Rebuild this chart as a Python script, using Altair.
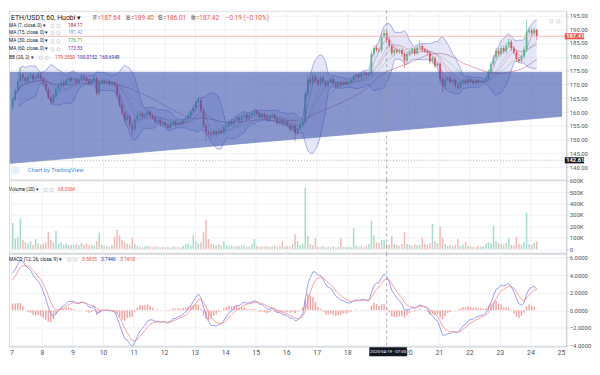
import altair as alt
import pandas as pd

# ---------------- data: ETH/USDT, Huobi, 2-hour candles, 7-24 Apr 2020 ----------------
close_apr07 = [164.5, 167.8, 171.2, 173.6, 172.4, 171.0, 172.8, 173.5, 171.9, 172.6, 173.8, 172.1]
close_apr08 = [170.4, 168.1, 165.3, 163.6, 165.8, 168.2, 169.5, 170.8, 169.9, 171.6, 172.3, 171.5]
close_apr09 = [172.0, 170.6, 171.8, 173.0, 172.4, 171.3, 170.2, 171.5, 172.3, 166.8, 170.6, 171.4]
close_apr10 = [170.8, 171.3, 170.1, 170.6, 169.8, 166.0, 162.5, 159.8, 157.2, 158.6, 155.3, 153.8]
close_apr11 = [157.4, 158.8, 159.6, 158.3, 159.1, 160.2, 158.9, 157.8, 156.4, 157.2, 155.6, 156.3]
close_apr12 = [155.2, 154.3, 155.8, 156.6, 155.4, 156.2, 155.7, 157.0, 157.6, 158.8, 160.2, 161.5]
close_apr13 = [163.6, 164.3, 160.5, 155.2, 153.0, 152.3, 151.8, 153.1, 152.0, 153.4, 152.5, 154.6]
close_apr14 = [155.2, 156.8, 155.9, 157.3, 158.1, 157.0, 158.6, 159.2, 157.8, 158.9, 159.6, 160.4]
close_apr15 = [159.5, 158.2, 159.3, 158.0, 157.1, 158.4, 159.0, 157.6, 156.2, 157.3, 155.8, 156.5]
close_apr16 = [155.4, 153.8, 155.1, 152.6, 154.0, 155.6, 156.8, 166.5, 171.8, 170.6, 172.9, 171.4]
close_apr17 = [170.2, 172.4, 171.0, 169.5, 170.8, 172.0, 170.3, 169.2, 170.6, 169.8, 170.9, 170.1]
close_apr18 = [170.8, 171.6, 172.9, 173.4, 172.6, 173.8, 174.2, 173.5, 174.0, 181.0, 183.2, 182.5]
close_apr19 = [182.4, 187.5, 188.6, 186.2, 184.0, 181.3, 182.6, 181.8, 182.5, 181.0, 178.6, 181.0]
close_apr20 = [181.8, 182.9, 181.2, 183.4, 183.9, 182.6, 182.0, 181.5, 178.3, 179.6, 176.8, 177.5]
close_apr21 = [172.0, 169.4, 171.8, 172.5, 170.9, 171.6, 169.6, 168.9, 170.8, 171.5, 170.6, 171.9]
close_apr22 = [171.2, 170.4, 171.6, 170.8, 171.3, 170.9, 172.1, 174.6, 177.5, 179.8, 182.2, 181.0]
close_apr23 = [183.2, 182.0, 184.1, 185.4, 183.0, 181.6, 179.2, 178.5, 180.1, 182.8, 188.9, 189.6]
close_apr24 = [188.6, 189.8, 187.42]
first_open = 162.0

wick_up = [
    0.6, 0.8, 0.9, 2.5, 0.7, 0.5, 0.8, 0.9, 0.4, 0.7, 0.8, 0.5,
    0.4, 0.6, 0.5, 0.7, 0.9, 0.6, 0.8, 0.7, 0.9, 0.5, 0.8, 0.6,
    0.7, 0.5, 0.8, 0.9, 0.6, 0.5, 0.7, 0.6, 0.9, 0.6, 0.8, 0.5,
    0.6, 0.7, 0.5, 0.6, 0.5, 0.8, 0.7, 0.9, 0.6, 1.1, 0.7, 0.9,
    0.9, 0.8, 1.0, 0.6, 0.7, 0.9, 0.5, 0.6, 0.7, 0.8, 0.6, 0.7,
    0.5, 0.6, 0.7, 0.5, 0.6, 0.4, 0.6, 0.7, 0.8, 0.9, 0.7, 1.0,
    0.9, 0.7, 0.8, 0.6, 0.8, 0.7, 0.6, 0.9, 0.5, 0.7, 0.6, 0.8,
    0.7, 0.6, 0.8, 0.5, 0.7, 0.6, 0.5, 0.8, 0.6, 0.7, 0.6, 0.8,
    0.6, 0.7, 0.5, 0.6, 0.8, 0.5, 0.7, 0.6, 0.5, 0.7, 0.6, 0.5,
    0.5, 0.6, 0.7, 0.5, 0.6, 0.5, 0.8, 1.2, 1.6, 0.9, 1.1, 0.8,
    0.9, 0.6, 0.7, 0.5, 0.8, 0.6, 0.7, 0.5, 0.6, 0.7, 0.5, 0.6,
    0.5, 0.6, 0.8, 0.6, 0.5, 0.7, 0.6, 0.5, 0.7, 1.2, 1.0, 0.9,
    0.8, 1.1, 1.2, 0.9, 0.8, 0.7, 0.9, 0.8, 0.7, 0.6, 0.8, 0.7,
    0.7, 0.8, 0.6, 0.7, 2.2, 0.6, 0.7, 0.5, 0.6, 0.8, 0.6, 0.7,
    0.6, 0.8, 0.7, 0.6, 0.8, 0.5, 0.6, 0.7, 0.5, 0.6, 0.7, 0.6,
    0.5, 0.6, 0.4, 0.5, 0.6, 0.5, 0.7, 0.9, 1.0, 0.8, 1.1, 0.9,
    1.0, 0.8, 0.9, 1.2, 0.8, 0.7, 0.6, 0.7, 0.9, 1.0, 4.6, 0.9,
    0.8, 0.6, 0.3,
]
wick_dn = [
    1.2, 0.6, 0.5, 0.7, 0.9, 0.6, 0.5, 0.7, 0.8, 0.5, 0.6, 0.7,
    0.8, 0.7, 0.6, 1.0, 0.5, 0.6, 0.7, 0.5, 0.8, 0.6, 0.5, 0.7,
    0.6, 0.8, 0.5, 0.6, 0.7, 0.9, 0.6, 0.5, 0.7, 0.9, 0.6, 0.5,
    0.5, 0.6, 0.7, 0.5, 0.8, 0.9, 0.8, 0.7, 1.0, 0.6, 0.8, 2.2,
    0.7, 0.6, 0.5, 0.8, 0.6, 0.7, 0.9, 0.6, 0.7, 0.5, 0.8, 0.6,
    0.7, 0.8, 0.5, 0.6, 0.7, 0.5, 0.6, 0.4, 0.5, 0.6, 0.7, 0.5,
    0.6, 0.8, 0.7, 0.9, 3.2, 0.8, 0.9, 0.6, 0.8, 0.5, 0.7, 0.6,
    0.6, 0.5, 0.7, 0.6, 0.5, 0.7, 0.6, 0.5, 0.8, 0.6, 0.5, 0.6,
    0.7, 0.6, 0.5, 0.7, 0.6, 0.5, 0.6, 0.7, 0.8, 0.5, 0.7, 0.6,
    0.8, 0.9, 0.6, 3.2, 0.7, 0.6, 0.5, 0.8, 0.9, 1.0, 0.7, 0.8,
    0.8, 0.6, 0.7, 0.9, 0.5, 0.6, 0.7, 0.8, 0.6, 0.7, 0.5, 0.6,
    0.6, 0.5, 0.6, 0.7, 0.5, 0.6, 0.5, 0.7, 0.6, 0.8, 0.9, 0.8,
    0.9, 0.8, 0.7, 0.9, 1.0, 0.8, 0.9, 0.7, 0.8, 0.9, 2.6, 0.8,
    0.8, 0.7, 0.9, 0.6, 0.7, 0.8, 0.6, 0.7, 0.9, 0.8, 0.9, 0.7,
    1.5, 2.2, 0.8, 0.7, 0.6, 0.7, 0.8, 0.9, 0.6, 0.7, 0.5, 0.6,
    0.5, 0.6, 0.5, 0.6, 0.5, 0.6, 0.5, 0.7, 0.8, 0.9, 0.8, 1.0,
    0.9, 1.0, 0.8, 0.9, 1.0, 0.9, 1.1, 0.8, 0.9, 0.8, 1.0, 0.9,
    1.0, 0.8, 1.4,
]
volume_k = [
    230, 90, 110, 270, 80, 60, 50, 70, 40, 90, 50, 40,
    50, 60, 150, 80, 60, 160, 50, 60, 40, 50, 35, 40,
    40, 50, 35, 55, 40, 50, 35, 40, 30, 70, 145, 40,
    30, 25, 20, 35, 110, 170, 120, 80, 60, 50, 40, 100,
    45, 30, 20, 18, 25, 30, 22, 18, 25, 22, 15, 22,
    18, 22, 15, 25, 18, 22, 15, 30, 45, 50, 35, 120,
    70, 50, 60, 150, 255, 90, 50, 45, 35, 45, 30, 70,
    35, 30, 32, 22, 30, 25, 35, 30, 22, 25, 45, 90,
    30, 22, 25, 22, 30, 22, 25, 30, 22, 25, 70, 25,
    30, 25, 45, 130, 70, 35, 50, 540, 115, 45, 35, 95,
    22, 18, 30, 15, 22, 18, 25, 15, 22, 95, 18, 22,
    22, 18, 185, 30, 22, 25, 18, 30, 45, 250, 120, 60,
    55, 80, 80, 45, 38, 115, 45, 38, 30, 45, 150, 45,
    38, 30, 45, 35, 38, 100, 45, 38, 55, 220, 70, 55,
    200, 100, 45, 30, 38, 30, 38, 90, 30, 38, 65, 30,
    25, 22, 18, 30, 22, 25, 45, 60, 55, 205, 70, 55,
    45, 38, 55, 95, 38, 35, 110, 45, 38, 60, 320, 45,
    40, 55, 68.356,
]
# MACD state carried in from before the visible window (fast EMA, slow EMA, signal)
macd_seed = (159.0, 155.0, 3.0)

# trend-channel drawing (day, top price, bottom price)
channel_day = [6.96, 25.02]
channel_top = [174.4, 174.4]
channel_bot = [141.5, 158.5]

day_ticks = list(range(7, 26))
price_ticks = [140, 145, 150, 155, 160, 165, 170, 175, 180, 185, 190, 195]
volume_ticks = [0, 100000, 200000, 300000, 400000, 500000, 600000]
macd_ticks = [-4, -2, 0, 2, 4, 6]

last_price = 187.41
cross_price = 142.61
cross_day = 19 + 7 / 24

# ---------------- table ----------------
close = (close_apr07 + close_apr08 + close_apr09 + close_apr10 + close_apr11 + close_apr12
         + close_apr13 + close_apr14 + close_apr15 + close_apr16 + close_apr17 + close_apr18
         + close_apr19 + close_apr20 + close_apr21 + close_apr22 + close_apr23 + close_apr24)
n = len(close)
opens = [first_open] + close[:-1]
high = [max(o, c) + w for o, c, w in zip(opens, close, wick_up)]
low = [min(o, c) - w for o, c, w in zip(opens, close, wick_dn)]
t = [7 + i / 12 + 1 / 24 for i in range(n)]

s = pd.Series(close)
bb_mid = s.rolling(10, min_periods=3).mean()
bb_sd = s.rolling(10, min_periods=3).std(ddof=0)

fast, slow, sig = macd_seed
af, asl, ag = 2 / 7, 2 / 14, 2 / 5.5
macd, signal = [], []
for c in close:
    fast += af * (c - fast)
    slow += asl * (c - slow)
    m = fast - slow
    sig += ag * (m - sig)
    macd.append(m)
    signal.append(sig)

df = pd.DataFrame({
    "t": t, "o": opens, "c": close, "h": high, "l": low,
    "v": [x * 1000 for x in volume_k],
    "dir": ["up" if c >= o else "down" for o, c in zip(opens, close)],
    "bb_m": bb_mid, "bb_u": bb_mid + 2 * bb_sd, "bb_l": bb_mid - 2 * bb_sd,
    "ma7": s.rolling(4, min_periods=1).mean(),
    "ma15": s.rolling(8, min_periods=1).mean(),
    "ma30": s.rolling(15, min_periods=1).mean(),
    "ma60": s.rolling(30, min_periods=1).mean(),
    "macd": macd, "sig": signal,
})
df["vdir"] = df["dir"]
df["hist"] = df["macd"] - df["sig"]
poly = pd.DataFrame({"t": channel_day, "top": channel_top, "bot": channel_bot})
dummy = pd.DataFrame({"k": [0]})

# ---------------- styling ----------------
FONT = "Roboto, 'Noto Sans CJK SC', sans-serif"
GRID = "#f0f2f6"
AX = "#c9ccd3"
LBL = "#4f535e"
UP, DOWN = "#53b987", "#eb4d5c"
W = 563
H_MAIN, H_VOL, H_MACD = 171, 74, 94

xs = alt.Scale(domain=[7.0817, 25.013], nice=False, zero=False)
ax_x_hidden = alt.Axis(values=day_ticks, labels=False, ticks=False, domainColor="#d1d4dc",
                       domainWidth=2, gridColor=GRID, title=None)
ax_x = alt.Axis(values=day_ticks, format="d", labelExpr="datum.value == 19 ? '' : datum.label",
                ticks=False, domainColor="#d1d4dc", domainWidth=1, gridColor=GRID, title=None,
                labelFontSize=7, labelColor=LBL, labelPadding=2, labelFlush=False, labelFont=FONT)


def yaxis(values, **kw):
    return alt.Axis(orient="right", values=values, tickSize=2, tickColor=AX, domainColor=AX,
                    gridColor=GRID, title=None, labelFontSize=6, labelColor=LBL, labelPadding=1,
                    labelFont=FONT, **kw)


ys_main = alt.Scale(domain=[135.48, 196.63], nice=False, zero=False)
ax_main = yaxis(price_ticks, format=".2f")
ys_vol = alt.Scale(domain=[-35800, 605800], nice=False, zero=False)
ax_vol = yaxis(volume_ticks, labelExpr="datum.value == 0 ? '0' : (datum.value / 1000) + 'K'")
ys_macd = alt.Scale(domain=[-4.08, 6.47], nice=False, zero=False)
ax_macd = yaxis(macd_ticks, format=".4f")


def txt(x, y, s, color="#131722", size=4.8, weight="normal", align="left"):
    return alt.Chart(dummy).mark_text(text=s, align=align, baseline="middle", font=FONT,
                                      fontSize=size, fontWeight=weight, color=color).encode(
        x=alt.value(x), y=alt.value(y))


def icons(xs_, y):
    return [alt.Chart(dummy).mark_point(shape="square", filled=False, size=9, color="#a9adb6",
                                        strokeWidth=0.6).encode(x=alt.value(xx), y=alt.value(y))
            for xx in xs_]


base = alt.Chart(df)


def X(axis):
    return alt.X("t:Q", scale=xs, axis=axis)


def YM(f):
    return alt.Y(f, type="quantitative", scale=ys_main, axis=ax_main)


def YD(v):
    return alt.Y(datum=v, scale=ys_main, axis=ax_main)


dir_main = alt.Color("dir:N", scale=alt.Scale(domain=["up", "down"], range=[UP, DOWN]), legend=None)
dir_vol = alt.Color("vdir:N", scale=alt.Scale(domain=["up", "down"], range=["#a6dccb", "#f5b9b7"]),
                    legend=None)

# ---------------- main panel ----------------
xm = X(ax_x_hidden)
main_layers = [
    base.mark_area(color="#c5c7ef", opacity=0.45, clip=True).encode(x=xm, y=YM("bb_u"), y2="bb_l:Q"),
    base.mark_line(color="#8c90d8", strokeWidth=0.7, clip=True).encode(x=xm, y=YM("bb_u")),
    base.mark_line(color="#8c90d8", strokeWidth=0.7, clip=True).encode(x=xm, y=YM("bb_l")),
    base.mark_line(color="#ef8f8f", strokeWidth=0.6, clip=True).encode(x=xm, y=YM("bb_m")),
    base.mark_line(color="#a0406e", strokeWidth=0.5, opacity=0.7, clip=True).encode(x=xm, y=YM("ma7")),
    base.mark_line(color="#7ea8e0", strokeWidth=0.5, opacity=0.8, clip=True).encode(x=xm, y=YM("ma15")),
    base.mark_line(color="#7cc47f", strokeWidth=0.5, opacity=0.8, clip=True).encode(x=xm, y=YM("ma30")),
    base.mark_line(color="#b0507a", strokeWidth=0.6, opacity=0.8, clip=True).encode(x=xm, y=YM("ma60")),
    base.mark_rule(strokeWidth=0.6, clip=True).encode(x=xm, y=YM("l"), y2="h:Q", color=dir_main),
    base.mark_bar(width=1.7, clip=True).encode(x=xm, y=YM("o"), y2="c:Q", color=dir_main),
    alt.Chart(poly).mark_area(color="#3a52ad", opacity=0.6, stroke="#2d46a3", strokeWidth=0.8,
                              clip=True).encode(x=xm, y=YM("top"), y2="bot:Q"),
    alt.Chart(dummy).mark_rule(color="#f4aaaa", strokeWidth=0.8).encode(y=YD(last_price)),
    alt.Chart(dummy).mark_rule(color="#9598a1", strokeWidth=0.8, strokeDash=[1, 2]).encode(
        y=YD(cross_price)),
    alt.Chart(dummy).mark_rule(color="#9598a1", strokeWidth=0.8, strokeDash=[3, 3]).encode(
        x=alt.X(datum=cross_day, scale=xs, axis=ax_x_hidden)),
    alt.Chart(dummy).mark_rect(color="#ef5350").encode(
        x=alt.value(561.5), x2=alt.value(581), y=YD(188.5), y2=alt.datum(186.3)),
    alt.Chart(dummy).mark_text(text="187.41", align="left", baseline="middle", fontSize=5.8,
                               font=FONT, color="white", fontWeight="bold").encode(
        x=alt.value(563), y=YD(last_price)),
    alt.Chart(dummy).mark_rect(color="#131722").encode(
        x=alt.value(561.5), x2=alt.value(581), y=YD(143.7), y2=alt.datum(141.5)),
    alt.Chart(dummy).mark_text(text="142.61", align="left", baseline="middle", fontSize=5.8,
                               font=FONT, color="white", fontWeight="bold").encode(
        x=alt.value(563), y=YD(cross_price)),
    # watermark
    alt.Chart(dummy).mark_point(shape="circle", filled=True, size=70, color="#dcebf8").encode(
        x=alt.value(7), y=alt.value(161.3)),
    txt(19, 161.3, "Chart by TradingView", color="#4a8fd6", size=6),
    # legend line 1
    txt(2, 7.1, "ETH/USDT, 60, Huobi ▾", size=7),
    txt(84.3, 7.1, "开", size=4.6), txt(89.2, 7.1, "=187.64", color="#ef5350", size=6.5),
    txt(118, 7.1, "高", size=4.6), txt(122.9, 7.1, "=189.40", color="#ef5350", size=6.5),
    txt(150.6, 7.1, "低", size=4.6), txt(155.5, 7.1, "=186.01", color="#ef5350", size=6.5),
    txt(183.8, 7.1, "收", size=4.6), txt(188.7, 7.1, "=187.42", color="#ef5350", size=6.5),
    txt(219, 7.1, "−0.19 (−0.10%)", color="#ef5350", size=6.5),
    # indicator legends
    txt(0, 15.5, "MA (7, close, 0) ▾"), txt(59.5, 15.5, "184.17", color="#8e2456"),
    txt(0, 22.8, "MA (15, close, 0) ▾"), txt(59.5, 22.8, "181.42", color="#6f9fdb"),
    txt(0, 30.8, "MA (30, close, 0) ▾"), txt(59.5, 30.8, "176.71", color="#43a047"),
    txt(0, 39, "MA (60, close, 0) ▾"), txt(59.5, 39, "173.83", color="#8e24aa"),
    txt(0, 47.5, "BB (20, 2) ▾"), txt(46.5, 47.5, "179.3550", color="#e53935"),
    txt(69, 47.5, "190.0152", color="#1a2aa8"), txt(91.5, 47.5, "168.6948", color="#1a2aa8"),
]
main_layers += icons([44, 50], 15.5) + icons([44, 50], 22.8) + icons([44, 50], 30.8) + icons([44, 50], 39)
main_layers += icons([32, 38], 47.5) + icons([548, 555], 10.7)
main = alt.layer(*main_layers).properties(width=W, height=H_MAIN)

# ---------------- volume panel ----------------
xv = X(ax_x_hidden)
vol_layers = [
    base.mark_bar(width=1.5, clip=True).encode(
        x=xv, y=alt.Y("v:Q", scale=ys_vol, axis=ax_vol), color=dir_vol),
    alt.Chart(dummy).mark_rule(color="#9598a1", strokeWidth=0.8, strokeDash=[3, 3]).encode(
        x=alt.X(datum=cross_day, scale=xs, axis=ax_x_hidden)),
    txt(0, 10, "Volume (20) ▾"), txt(49.5, 10, "68.356K", color="#ef5350"),
] + icons([37, 43], 10)
vol = alt.layer(*vol_layers).properties(width=W, height=H_VOL)

# ---------------- MACD panel ----------------
xc = X(ax_x)
macd_layers = [
    base.mark_bar(width=1.5, color="#f3a6a6", clip=True).encode(
        x=xc, y=alt.Y("hist:Q", scale=ys_macd, axis=ax_macd)),
    base.mark_line(color="#8285ee", strokeWidth=0.8, clip=True).encode(
        x=xc, y=alt.Y("macd:Q", scale=ys_macd, axis=ax_macd)),
    base.mark_line(color="#f28b8b", strokeWidth=0.8, clip=True).encode(
        x=xc, y=alt.Y("sig:Q", scale=ys_macd, axis=ax_macd)),
    alt.Chart(dummy).mark_rule(color="#9598a1", strokeWidth=0.8, strokeDash=[3, 3]).encode(
        x=alt.X(datum=cross_day, scale=xs, axis=ax_x)),
    txt(0, 6.5, "MACD (12, 26, close, 9) ▾"), txt(74, 6.5, "0.5835", color="#ef5350"),
    txt(93, 6.5, "3.7446", color="#1a2aa8"), txt(112.5, 6.5, "3.1610", color="#e53935"),
    alt.Chart(dummy).mark_rect(color="#131722").encode(
        x=alt.value(364), x2=alt.value(402), y=alt.value(95), y2=alt.value(104)),
    alt.Chart(dummy).mark_text(text="2020-04-19 · 07:00", align="center", baseline="middle",
                               fontSize=4.4, font=FONT, color="white").encode(
        x=alt.value(383), y=alt.value(99.5)),
] + icons([61, 67], 6.5)
macd_chart = alt.layer(*macd_layers).properties(width=W, height=H_MACD)

chart = alt.vconcat(main, vol, macd_chart, spacing=0, bounds="flush").resolve_scale(
    color="independent"
).properties(
    padding={"left": 0, "top": 0, "right": 0, "bottom": 0}
).configure_view(stroke=None).configure(background="white")

chart.save("out.html", embed_options={"renderer": "svg", "actions": False})
